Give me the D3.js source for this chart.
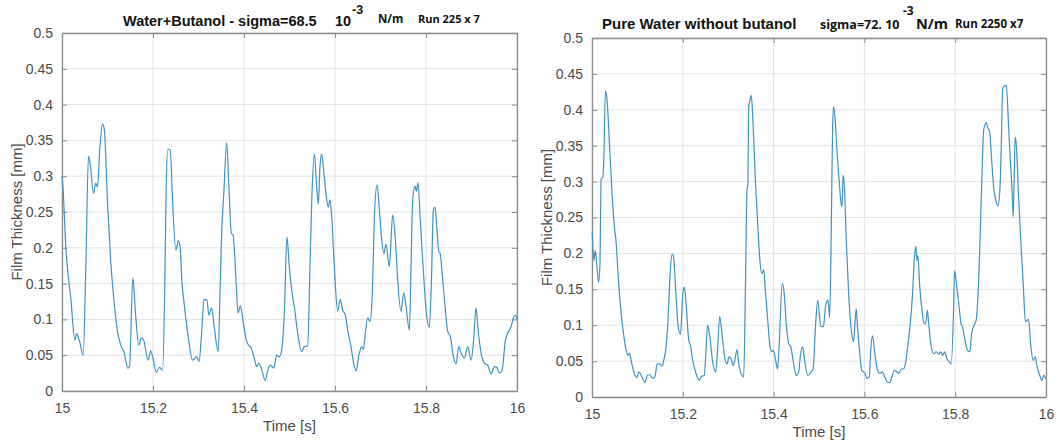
<!DOCTYPE html>
<html>
<head>
<meta charset="utf-8">
<script src="https://cdn.jsdelivr.net/npm/d3@7"></script>
<style>
  html, body { margin: 0; padding: 0; background: #ffffff; }
  svg { display: block; }
</style>
</head>
<body>
<svg id="chart" width="1060" height="448"></svg>
<script>
// ---------------- DATA ----------------
const xTickValues = [15, 15.2, 15.4, 15.6, 15.8, 16];
const xTickLabels = ["15", "15.2", "15.4", "15.6", "15.8", "16"];
const yTickValues = [0, 0.05, 0.1, 0.15, 0.2, 0.25, 0.3, 0.35, 0.4, 0.45, 0.5];
const yTickLabels = ["0", "0.05", "0.1", "0.15", "0.2", "0.25", "0.3", "0.35", "0.4", "0.45", "0.5"];

// Left panel: Water+Butanol
const leftTime = [
  15.0000, 15.0015, 15.0088, 15.0197, 15.0284, 15.0320, 15.0379, 15.0466, 15.0524, 15.0582,
  15.0626, 15.0691, 15.0742, 15.0779, 15.0830, 15.0888, 15.0931, 15.0997, 15.1069, 15.1142,
  15.1215, 15.1302, 15.1360, 15.1447, 15.1484, 15.1557, 15.1615, 15.1687, 15.1746, 15.1796,
  15.1891, 15.1949, 15.1993, 15.2073, 15.2145, 15.2211, 15.2254, 15.2291, 15.2327, 15.2378,
  15.2429, 15.2502, 15.2560, 15.2596, 15.2633, 15.2683, 15.2763, 15.2872, 15.2960, 15.3011,
  15.3069, 15.3120, 15.3185, 15.3229, 15.3287, 15.3345, 15.3432, 15.3469, 15.3505, 15.3556,
  15.3621, 15.3665, 15.3723, 15.3759, 15.3832, 15.3868, 15.3919, 15.3977, 15.4050, 15.4101,
  15.4159, 15.4217, 15.4283, 15.4319, 15.4377, 15.4465, 15.4523, 15.4581, 15.4654, 15.4719,
  15.4777, 15.4828, 15.4886, 15.4944, 15.4995, 15.5068, 15.5106, 15.5179, 15.5267, 15.5326,
  15.5399, 15.5450, 15.5494, 15.5546, 15.5597, 15.5634, 15.5670, 15.5707, 15.5758, 15.5802,
  15.5853, 15.5890, 15.5927, 15.5985, 15.6059, 15.6117, 15.6169, 15.6227, 15.6279, 15.6352,
  15.6410, 15.6462, 15.6520, 15.6586, 15.6623, 15.6667, 15.6718, 15.6770, 15.6814, 15.6872,
  15.6924, 15.6975, 15.7026, 15.7078, 15.7121, 15.7195, 15.7268, 15.7327, 15.7378, 15.7451,
  15.7510, 15.7561, 15.7635, 15.7671, 15.7708, 15.7759, 15.7789, 15.7825, 15.7869, 15.7913,
  15.7964, 15.8016, 15.8074, 15.8118, 15.8162, 15.8199, 15.8236, 15.8280, 15.8309, 15.8368,
  15.8426, 15.8478, 15.8536, 15.8602, 15.8661, 15.8719, 15.8771, 15.8844, 15.8917, 15.8991,
  15.9042, 15.9100, 15.9152, 15.9211, 15.9284, 15.9357, 15.9430, 15.9504, 15.9555, 15.9614,
  15.9672, 15.9746, 15.9797, 15.9870, 15.9922, 15.9966, 16.0000
];
const leftThickness = [
  0.300, 0.290, 0.197, 0.127, 0.071, 0.080, 0.071, 0.050, 0.174, 0.328,
  0.314, 0.276, 0.290, 0.285, 0.337, 0.373, 0.365, 0.267, 0.183, 0.127,
  0.085, 0.062, 0.055, 0.032, 0.034, 0.158, 0.109, 0.064, 0.074, 0.071,
  0.043, 0.056, 0.048, 0.026, 0.033, 0.029, 0.127, 0.290, 0.338, 0.337,
  0.267, 0.197, 0.210, 0.202, 0.155, 0.123, 0.081, 0.043, 0.048, 0.041,
  0.081, 0.128, 0.127, 0.106, 0.116, 0.090, 0.055, 0.127, 0.213, 0.276,
  0.347, 0.290, 0.220, 0.218, 0.146, 0.109, 0.119, 0.099, 0.071, 0.064,
  0.060, 0.048, 0.034, 0.039, 0.032, 0.015, 0.029, 0.036, 0.032, 0.050,
  0.048, 0.057, 0.109, 0.215, 0.174, 0.132, 0.118, 0.081, 0.055, 0.062,
  0.063, 0.174, 0.276, 0.331, 0.286, 0.261, 0.314, 0.331, 0.304, 0.276,
  0.257, 0.267, 0.244, 0.174, 0.111, 0.128, 0.113, 0.106, 0.085, 0.062,
  0.039, 0.028, 0.048, 0.062, 0.058, 0.081, 0.102, 0.097, 0.127, 0.253,
  0.288, 0.253, 0.211, 0.192, 0.205, 0.174, 0.246, 0.211, 0.155, 0.111,
  0.137, 0.118, 0.085, 0.174, 0.267, 0.286, 0.279, 0.291, 0.244, 0.197,
  0.146, 0.104, 0.089, 0.151, 0.253, 0.257, 0.230, 0.195, 0.192, 0.155,
  0.113, 0.083, 0.076, 0.048, 0.038, 0.062, 0.053, 0.046, 0.062, 0.043,
  0.067, 0.116, 0.081, 0.053, 0.039, 0.036, 0.024, 0.034, 0.033, 0.025,
  0.029, 0.071, 0.081, 0.090, 0.102, 0.106, 0.100
];

// Right panel: Pure water without butanol
const rightTime = [
  15.0006, 15.0042, 15.0071, 15.0100, 15.0144, 15.0173, 15.0202, 15.0238, 15.0260, 15.0296,
  15.0333, 15.0384, 15.0442, 15.0492, 15.0528, 15.0565, 15.0622, 15.0695, 15.0753, 15.0789,
  15.0826, 15.0876, 15.0949, 15.0985, 15.1036, 15.1094, 15.1166, 15.1217, 15.1275, 15.1333,
  15.1384, 15.1435, 15.1492, 15.1550, 15.1580, 15.1623, 15.1674, 15.1725, 15.1768, 15.1797,
  15.1840, 15.1891, 15.1949, 15.2000, 15.2036, 15.2073, 15.2131, 15.2167, 15.2218, 15.2290,
  15.2363, 15.2413, 15.2471, 15.2508, 15.2544, 15.2595, 15.2653, 15.2725, 15.2761, 15.2812,
  15.2870, 15.2928, 15.2979, 15.3015, 15.3066, 15.3110, 15.3160, 15.3196, 15.3233, 15.3305,
  15.3341, 15.3378, 15.3414, 15.3435, 15.3450, 15.3479, 15.3508, 15.3544, 15.3595, 15.3653,
  15.3704, 15.3740, 15.3784, 15.3813, 15.3871, 15.3921, 15.3958, 15.3994, 15.4045, 15.4088,
  15.4124, 15.4189, 15.4226, 15.4284, 15.4334, 15.4378, 15.4429, 15.4501, 15.4552, 15.4595,
  15.4639, 15.4683, 15.4755, 15.4828, 15.4871, 15.4922, 15.4973, 15.5040, 15.5098, 15.5148,
  15.5199, 15.5235, 15.5271, 15.5300, 15.5321, 15.5357, 15.5386, 15.5437, 15.5487, 15.5509,
  15.5530, 15.5559, 15.5603, 15.5653, 15.5704, 15.5762, 15.5791, 15.5820, 15.5848, 15.5892,
  15.5942, 15.5978, 15.6014, 15.6051, 15.6108, 15.6137, 15.6181, 15.6231, 15.6282, 15.6339,
  15.6397, 15.6448, 15.6505, 15.6556, 15.6614, 15.6664, 15.6715, 15.6758, 15.6809, 15.6860,
  15.6903, 15.6953, 15.7004, 15.7061, 15.7097, 15.7134, 15.7155, 15.7177, 15.7220, 15.7278,
  15.7314, 15.7350, 15.7386, 15.7422, 15.7473, 15.7531, 15.7581, 15.7639, 15.7682, 15.7726,
  15.7769, 15.7820, 15.7870, 15.7913, 15.7964, 15.7986, 15.8036, 15.8087, 15.8130, 15.8159,
  15.8217, 15.8274, 15.8325, 15.8361, 15.8419, 15.8462, 15.8520, 15.8578, 15.8628, 15.8686,
  15.8722, 15.8758, 15.8794, 15.8845, 15.8902, 15.8939, 15.8982, 15.9011, 15.9047, 15.9083,
  15.9126, 15.9170, 15.9213, 15.9249, 15.9278, 15.9300, 15.9321, 15.9350, 15.9393, 15.9444,
  15.9502, 15.9545, 15.9588, 15.9617, 15.9661, 15.9718, 15.9762, 15.9805, 15.9863, 15.9913,
  15.9949, 16.0000
];
const rightThickness = [
  0.230, 0.190, 0.204, 0.188, 0.160, 0.181, 0.304, 0.306, 0.330, 0.426,
  0.413, 0.353, 0.283, 0.237, 0.218, 0.181, 0.130, 0.088, 0.065, 0.058,
  0.061, 0.046, 0.030, 0.027, 0.035, 0.029, 0.020, 0.030, 0.031, 0.026,
  0.028, 0.046, 0.046, 0.043, 0.051, 0.065, 0.107, 0.177, 0.199, 0.195,
  0.153, 0.102, 0.087, 0.144, 0.153, 0.130, 0.079, 0.072, 0.051, 0.033,
  0.023, 0.029, 0.030, 0.060, 0.100, 0.084, 0.051, 0.035, 0.060, 0.112,
  0.084, 0.053, 0.046, 0.056, 0.053, 0.044, 0.056, 0.066, 0.046, 0.030,
  0.028, 0.144, 0.288, 0.297, 0.404, 0.413, 0.420, 0.386, 0.307, 0.237,
  0.186, 0.172, 0.177, 0.153, 0.107, 0.070, 0.063, 0.065, 0.051, 0.039,
  0.074, 0.158, 0.149, 0.098, 0.074, 0.070, 0.051, 0.030, 0.035, 0.060,
  0.070, 0.051, 0.030, 0.035, 0.039, 0.098, 0.135, 0.098, 0.098, 0.128,
  0.135, 0.111, 0.237, 0.376, 0.404, 0.386, 0.353, 0.307, 0.269, 0.265,
  0.309, 0.293, 0.214, 0.144, 0.098, 0.077, 0.102, 0.123, 0.098, 0.065,
  0.037, 0.035, 0.033, 0.026, 0.028, 0.063, 0.085, 0.060, 0.039, 0.033,
  0.035, 0.028, 0.021, 0.020, 0.030, 0.037, 0.035, 0.033, 0.039, 0.039,
  0.046, 0.070, 0.098, 0.144, 0.190, 0.210, 0.190, 0.197, 0.153, 0.116,
  0.102, 0.102, 0.121, 0.098, 0.070, 0.060, 0.063, 0.060, 0.063, 0.058,
  0.063, 0.053, 0.049, 0.046, 0.121, 0.176, 0.153, 0.125, 0.102, 0.098,
  0.079, 0.065, 0.063, 0.088, 0.100, 0.107, 0.167, 0.283, 0.372, 0.382,
  0.374, 0.370, 0.339, 0.293, 0.272, 0.266, 0.286, 0.339, 0.430, 0.433,
  0.434, 0.386, 0.330, 0.293, 0.251, 0.307, 0.362, 0.348, 0.283, 0.218,
  0.153, 0.105, 0.107, 0.108, 0.074, 0.051, 0.056, 0.042, 0.030, 0.023,
  0.030, 0.025
];

// ---------------- DRAWING ----------------
const svg = d3.select("#chart");
const FONT = "'Liberation Sans', Arial, Helvetica, sans-serif";
const LINE_COLOR = "#3f92c4";

function drawPanel(box, times, values) {
  const x = d3.scaleLinear().domain([15, 16]).range([box.x0, box.x1]);
  const y = d3.scaleLinear().domain([0, 0.5]).range([box.y1, box.y0]);
  const g = svg.append("g");

  // grid
  g.append("g").selectAll("line").data(xTickValues).join("line")
    .attr("x1", d => x(d)).attr("x2", d => x(d))
    .attr("y1", box.y0).attr("y2", box.y1)
    .attr("stroke", "#e3e3e3").attr("stroke-width", 1);
  g.append("g").selectAll("line").data(yTickValues).join("line")
    .attr("x1", box.x0).attr("x2", box.x1)
    .attr("y1", d => y(d)).attr("y2", d => y(d))
    .attr("stroke", "#e3e3e3").attr("stroke-width", 1);

  // axes (inward ticks, MATLAB style)
  const xAxisB = d3.axisBottom(x).tickValues(xTickValues)
    .tickFormat((d, i) => xTickLabels[i]).tickSizeInner(-5).tickSizeOuter(0).tickPadding(12);
  const yAxisL = d3.axisLeft(y).tickValues(yTickValues)
    .tickFormat((d, i) => yTickLabels[i]).tickSizeInner(-5).tickSizeOuter(0).tickPadding(9);
  const xAxisT = d3.axisTop(x).tickValues(xTickValues).tickFormat("").tickSizeInner(-5).tickSizeOuter(0);
  const yAxisR = d3.axisRight(y).tickValues(yTickValues).tickFormat("").tickSizeInner(-5).tickSizeOuter(0);

  const styleAxis = sel => {
    sel.selectAll("path.domain").attr("stroke", "#8a8a8a").attr("stroke-width", 1.3);
    sel.selectAll(".tick line").attr("stroke", "#8a8a8a").attr("stroke-width", 1);
    sel.selectAll(".tick text").attr("fill", "#4a4a4a").style("font-family", FONT).style("font-size", "14px");
  };

  g.append("g").attr("transform", `translate(0,${box.y1})`).call(xAxisB).call(styleAxis);
  g.append("g").attr("transform", `translate(${box.x0},0)`).call(yAxisL).call(styleAxis);
  g.append("g").attr("transform", `translate(0,${box.y0})`).call(xAxisT).call(styleAxis);
  g.append("g").attr("transform", `translate(${box.x1},0)`).call(yAxisR).call(styleAxis);

  // data line
  const pts = times.map((t, i) => [t, values[i]]);
  const line = d3.line().x(d => x(d[0])).y(d => y(d[1])).curve(d3.curveMonotoneX);
  g.append("path").datum(pts)
    .attr("d", line).attr("fill", "none")
    .attr("stroke", LINE_COLOR).attr("stroke-width", 1.2)
    .attr("stroke-linejoin", "round");

  // labels
  g.append("text")
    .attr("x", (box.x0 + box.x1) / 2).attr("y", box.y1 + 40)
    .attr("text-anchor", "middle").attr("fill", "#4a4a4a")
    .style("font-family", FONT).style("font-size", "15px")
    .text("Time [s]");
  g.append("text")
    .attr("transform", `translate(${box.x0 - 40},${(box.y0 + box.y1) / 2}) rotate(-90)`)
    .attr("text-anchor", "middle").attr("fill", "#4a4a4a")
    .style("font-family", FONT).style("font-size", "15px")
    .text("Film Thickness [mm]");
  return g;
}

drawPanel({ x0: 62, x1: 517, y0: 33, y1: 391 }, leftTime, leftThickness);
drawPanel({ x0: 592, x1: 1046, y0: 38, y1: 397 }, rightTime, rightThickness);

// titles
function titlePart(x, y, txt, size, family) {
  svg.append("text").attr("x", x).attr("y", y)
    .attr("fill", "#111")
    .style("font-family", family || FONT).style("font-weight", "bold")
    .style("font-size", size + "px").text(txt);
}
const CAL = "'Open Sans', 'Noto Sans', sans-serif";
// left title
titlePart(123, 26, "Water+Butanol - sigma=68.5", 14.5);
titlePart(335, 26, "10", 14.5);
titlePart(352, 14, "-3", 12.5);
titlePart(378, 23, "N/m", 11.5, CAL);
titlePart(418, 23, "Run 225 x 7", 11, CAL);
// right title
titlePart(602, 29, "Pure Water without butanol", 15);
titlePart(820, 29, "sigma=72. 10", 12.5, CAL);
titlePart(903, 15, "-3", 12, CAL);
titlePart(916, 29, "N/m", 14.5, CAL);
titlePart(955, 28, "Run 2250 x7", 11.5, CAL);
</script>
</body>
</html>
